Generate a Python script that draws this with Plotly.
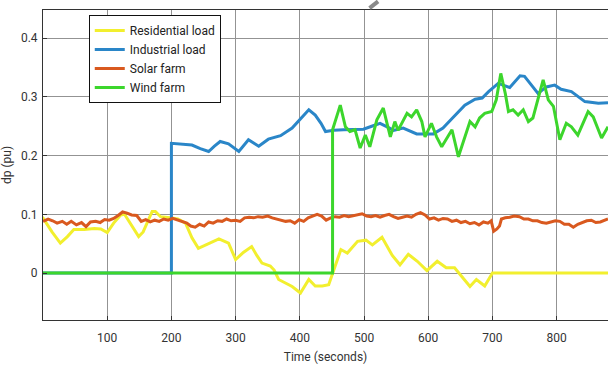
import plotly.graph_objects as go

# Time stamps (s) and power deviation (pu) for each source
res_t = [0, 1, 14, 27, 38, 48, 64, 80, 90, 100, 110, 121, 127, 138, 149, 156, 162, 170, 175, 183,
         198, 210, 222, 232, 242, 258, 274, 289, 300, 312, 325, 333, 341, 354, 360, 367, 378, 388,
         401, 414, 424, 435, 445, 451, 464, 474, 490, 503, 513, 528, 544, 556, 569, 583, 598, 614,
         628, 641, 652, 665, 675, 688, 700, 880]
res_v = [0.09, 0.092, 0.07, 0.051, 0.062, 0.074, 0.074, 0.076, 0.075, 0.069, 0.085, 0.099, 0.1,
         0.08, 0.062, 0.07, 0.085, 0.105, 0.105, 0.096, 0.094, 0.092, 0.085, 0.06, 0.042, 0.05,
         0.058, 0.051, 0.023, 0.035, 0.045, 0.03, 0.017, 0.012, 0.005, -0.011, -0.018, -0.023,
         -0.034, -0.011, -0.022, -0.022, -0.02, 0.0, 0.04, 0.034, 0.054, 0.056, 0.048, 0.061,
         0.03, 0.014, 0.032, 0.02, 0.004, 0.02, 0.009, 0.009, -0.005, -0.023, -0.011, -0.022,
         0.0, 0.0]

ind_t = [0, 200, 200, 215, 232, 245, 258, 267, 276, 289, 305, 320, 336, 351, 370, 388, 400, 414,
         424, 433, 440, 453, 468, 484, 499, 512, 525, 536, 546, 561, 572, 582, 608, 623, 636, 649,
         657, 673, 684, 694, 709, 727, 743, 750, 760, 771, 784, 797, 807, 823, 844, 865, 880]
ind_v = [0, 0, 0.221, 0.219, 0.218, 0.212, 0.207, 0.216, 0.224, 0.22, 0.207, 0.227, 0.216, 0.228,
         0.234, 0.247, 0.262, 0.278, 0.269, 0.255, 0.241, 0.243, 0.244, 0.245, 0.245, 0.25, 0.255,
         0.249, 0.243, 0.247, 0.242, 0.237, 0.237, 0.247, 0.262, 0.276, 0.286, 0.296, 0.298, 0.309,
         0.323, 0.316, 0.336, 0.335, 0.322, 0.306, 0.317, 0.32, 0.313, 0.309, 0.292, 0.289, 0.29]

sol_t = [0, 8, 15, 22, 30, 37, 44, 52, 60, 67, 74, 82, 89, 96, 103, 110, 117, 124, 131, 138, 146,
         153, 160, 167, 174, 181, 188, 195, 202, 210, 217, 224, 230, 237, 244, 251, 258, 265, 272,
         279, 286, 293, 300, 307, 314, 321, 328, 335, 342, 350, 357, 364, 371, 378, 385, 392, 399,
         406, 413, 420, 427, 434, 441, 448, 455, 462, 469, 476, 483, 490, 497, 504, 511, 518, 525,
         532, 539, 546, 553, 560, 567, 574, 581, 588, 595, 602, 609, 616, 623, 630, 637, 644, 651,
         658, 665, 672, 679, 686, 693, 698, 702, 707, 711, 714, 720, 727, 734, 742, 749, 756, 763,
         770, 777, 784, 791, 798, 805, 812, 819, 826, 833, 840, 847, 854, 861, 868, 875, 880]
sol_v = [0.088, 0.092, 0.089, 0.085, 0.088, 0.083, 0.088, 0.082, 0.086, 0.079, 0.087, 0.088,
         0.086, 0.091, 0.09, 0.093, 0.098, 0.104, 0.102, 0.099, 0.098, 0.088, 0.091, 0.087, 0.09,
         0.088, 0.092, 0.09, 0.093, 0.09, 0.088, 0.085, 0.08, 0.078, 0.083, 0.08, 0.087, 0.085,
         0.089, 0.088, 0.092, 0.089, 0.09, 0.088, 0.094, 0.095, 0.094, 0.096, 0.095, 0.097, 0.094,
         0.092, 0.09, 0.088, 0.089, 0.085, 0.091, 0.088, 0.094, 0.097, 0.1, 0.097, 0.09, 0.094,
         0.096, 0.095, 0.098, 0.096, 0.098, 0.1, 0.101, 0.097, 0.096, 0.098, 0.095, 0.098, 0.1,
         0.096, 0.093, 0.095, 0.097, 0.095, 0.1, 0.103, 0.099, 0.092, 0.094, 0.09, 0.093, 0.092,
         0.088, 0.09, 0.086, 0.088, 0.084, 0.086, 0.082, 0.087, 0.085, 0.089, 0.071, 0.075, 0.08,
         0.092, 0.094, 0.095, 0.097, 0.096, 0.092, 0.092, 0.089, 0.089, 0.086, 0.085, 0.087,
         0.089, 0.088, 0.083, 0.083, 0.078, 0.083, 0.086, 0.089, 0.09, 0.086, 0.087, 0.09, 0.092]

wind_t = [0, 451, 451, 463, 471, 478, 486, 494, 502, 509, 520, 530, 541, 548, 553, 567, 574, 582,
          590, 595, 605, 613, 621, 637, 647, 657, 665, 673, 680, 688, 699, 706, 713, 720, 725, 732,
          740, 748, 756, 763, 769, 779, 787, 795, 805, 815, 823, 833, 841, 849, 857, 870, 880]
wind_v = [0, 0, 0.244, 0.286, 0.249, 0.241, 0.244, 0.213, 0.235, 0.215, 0.261, 0.281, 0.232,
          0.258, 0.243, 0.272, 0.266, 0.278, 0.258, 0.232, 0.255, 0.232, 0.215, 0.244, 0.198,
          0.232, 0.258, 0.249, 0.264, 0.272, 0.275, 0.295, 0.34, 0.306, 0.275, 0.278, 0.269,
          0.278, 0.258, 0.264, 0.289, 0.329, 0.295, 0.284, 0.227, 0.255, 0.249, 0.235, 0.255,
          0.275, 0.266, 0.23, 0.249]

x_ticks = [100, 200, 300, 400, 500, 600, 700, 800]
y_ticks = [0, 0.1, 0.2, 0.3, 0.4]
y_tick_text = ["0", "0.1", "0.2", "0.3", "0.4"]

FONT = "Liberation Sans Narrow, Arial Narrow, Roboto, Liberation Sans, Arial, sans-serif"

series = [
    ("Residential load", res_t, res_v, "#f2ef2e", 3),
    ("Industrial load", ind_t, ind_v, "#2a86c8", 3),
    ("Solar farm", sol_t, sol_v, "#d9591f", 3),
    ("Wind farm", wind_t, wind_v, "#3cd62c", 3),
]

fig = go.Figure()
for name, t, v, color, w in series:
    fig.add_trace(go.Scatter(x=t, y=v, mode="lines", name=name,
                             line=dict(color=color, width=w)))

fig.update_layout(
    width=608, height=370,
    margin=dict(l=43, r=0, t=10, b=50),
    paper_bgcolor="white", plot_bgcolor="white",
    font=dict(family=FONT, size=12, color="#333333"),
    showlegend=True,
    legend=dict(x=0.081, y=0.984, xanchor="left", yanchor="top",
                bgcolor="white", bordercolor="#111111", borderwidth=1,
                font=dict(family=FONT, size=12, color="#222222"),
                tracegroupgap=0, itemwidth=30),
    xaxis=dict(range=[0, 880], tickvals=x_ticks, showgrid=True, gridcolor="#939393",
               gridwidth=1, zeroline=False, showline=True, linecolor="#333333",
               linewidth=1, mirror=True, ticks="inside", ticklen=4, tickcolor="#333333",
               ticklabelstandoff=7,
               title=dict(text="Time (seconds)", standoff=8,
                          font=dict(family=FONT, size=12, color="#333333"))),
    yaxis=dict(range=[-0.08, 0.448], tickvals=y_ticks, ticktext=y_tick_text, showgrid=True,
               gridcolor="#939393", gridwidth=1, zeroline=False, showline=True,
               linecolor="#333333", linewidth=1, ticks="inside", ticklen=4,
               tickcolor="#333333", ticklabelstandoff=2,
               title=dict(text="dp (pu)", standoff=10,
                          font=dict(family=FONT, size=12, color="#333333"))),
)

# small grey pen mark above the top frame
fig.add_shape(type="line", xref="paper", yref="paper", x0=0.578, y0=1.006, x1=0.593, y1=1.028,
              line=dict(color="#8a8a8a", width=4))

fig.write_html("out.html")
